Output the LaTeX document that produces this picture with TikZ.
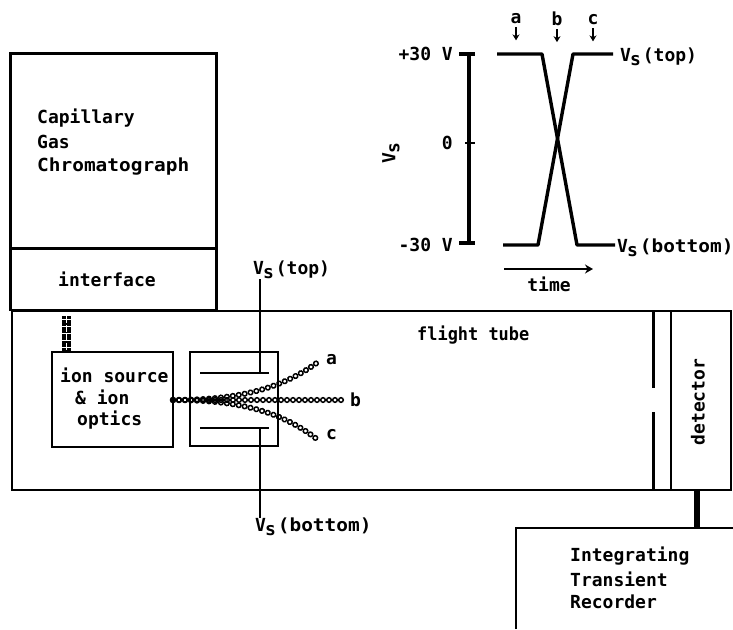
\documentclass[tikz,border=0pt]{standalone}
\usepackage{fontspec}
\setmonofont{DejaVu Sans Mono}
\usepackage{xcolor}
\usetikzlibrary{arrows.meta,positioning,calc,decorations.markings}
\newcommand{\Vsub}{V\kern-1pt\raisebox{-4pt}{s}\kern2pt}
\newcommand{\wider}[1]{\scalebox{1.08}[1]{#1}}
\tikzset{
  unitbox/.style={draw,line width=2.6pt,inner sep=0pt,outer sep=0pt,anchor=north west},
  wire/.style={line width=1.5pt},
  trace/.style={line width=3.4pt},
  lbl/.style={inner sep=0pt,font=\fontsize{18}{20}\ttfamily\bfseries},
  lblw/.style={lbl,anchor=west},
  ionbeam/.style={decoration={markings,mark=between positions 0 and 1 step 6pt with {\draw[line width=1.5pt] (0,0) circle (2.3pt);}},decorate},
  smallarrow/.style={line width=2pt,-{Stealth[length=6pt,width=7pt]}}
}
\begin{document}
\begin{tikzpicture}[x=1pt,y=-1pt]
  \useasboundingbox (0,0) rectangle (733,629);
  % instrument boxes
  \node[unitbox,minimum width=206pt,minimum height=195pt] (gc) at (10.5,53.5) {};
  \node[unitbox,minimum width=206pt,minimum height=62pt] (iface) at (10.5,248) {};
  \node[unitbox,minimum width=719pt,minimum height=179pt] (tube) at (12,311) {};
  \node[unitbox,minimum width=60pt,minimum height=179pt] (det) at (671,311) {};
  \node[unitbox,minimum width=121pt,minimum height=95pt] (source) at (52,352) {};
  \node[unitbox,minimum width=88pt,minimum height=94pt] (deflect) at (190,352) {};
  \draw[line width=2.6pt] (516,629) |- (733,528);
  \coordinate (rec) at (697,528);
  \draw[line width=6pt] (det.south -| rec) -- (rec);
  % slit in front of detector
  \coordinate (slittop) at (653,388);
  \coordinate (slitbot) at (653,412);
  \draw[line width=3pt] (tube.north -| slittop) -- (slittop);
  \draw[line width=3pt] (slitbot) -- (tube.south -| slitbot);
  % deflection plates
  \coordinate (pta) at (200,373);
  \coordinate (ptb) at (269,373);
  \coordinate (pba) at (200,428);
  \coordinate (pbb) at (269,428);
  \draw[line width=2.2pt] (pta) -- (ptb);
  \draw[line width=2.2pt] (pba) -- (pbb);
  \node[lbl,anchor=west] (vtop) at (253,270) {\Vsub(top)};
  \node[lbl,anchor=west] (vbot) at (255,527) {\Vsub\wider{(bottom)}};
  \coordinate (wt) at (260,373);
  \coordinate (wb) at (260,428);
  \draw[wire] (vtop.south -| wt) -- (wt);
  \draw[wire] (wb) -- (vbot.north -| wb);
  % ion beams
  \coordinate (stub) at (66.5,316);
  \coordinate (enda) at (318,362);
  \coordinate (endb) at (345,400);
  \coordinate (endc) at (318,440);
  \draw[line width=9pt,dash pattern=on 3pt off 0.5pt] (stub) -- (source.north -| stub);
  \draw[white,line width=1.4pt,dash pattern=on 7pt off 2pt] (stub) -- (source.north -| stub);
  \path[ionbeam] (source.east |- endb) -- (endb);
  \path[ionbeam] (source.east |- endb) .. controls (235,400) and (280,390) .. (enda);
  \path[ionbeam] (source.east |- endb) .. controls (235,400) and (280,410) .. (endc);
  % labels in the apparatus
  \node[lblw] (lcap) at (37,118) {Capillary};
  \node[lblw] (lgas) at (37,142) {Gas};
  \node[lblw] (lchr) at (37,167) {\wider{Chromatograph}};
  \node[lblw] (lint) at (58,279) {interface};
  \node[lblw] (lft) at (417,335) {\scalebox{.94}[1]{flight tube}};
  \node[lblw] (lion) at (60,375) {ion source};
  \node[lblw] (lamp) at (75,397) {\& ion};
  \node[lblw] (lopt) at (77,420) {optics};
  \node[lblw] (la) at (326,360) {a};
  \node[lblw] (lb) at (350,400) {b};
  \node[lblw] (lc) at (326,435) {c};
  \node[lbl,rotate=90] (ldet) at (698,402) {detector};
  \node[lblw] (lrec1) at (570,556) {Integrating};
  \node[lblw] (lrec2) at (570,579) {Transient};
  \node[lblw] (lrec3) at (570,602) {Recorder};
  % timing chart
  \coordinate (axt) at (469,54);
  \coordinate (axz) at (469,143);
  \coordinate (axb) at (469,243);
  \draw[trace] (axt) -- (axb);
  \draw[trace] ($(axt)+(-10,0)$) -- ++(16,0);
  \draw[line width=2.2pt] ($(axz)+(-4,0)$) -- ++(10,0);
  \draw[trace] ($(axb)+(-10,0)$) -- ++(16,0);
  \node[lbl,anchor=east] (lp30) at (453,54) {+30 V};
  \node[lbl,anchor=east] (lzero) at (453,143) {0};
  \node[lbl,anchor=east] (lm30) at (453,245) {-30 V};
  \node[lbl,rotate=90] (lvs) at (391,152) {\Vsub};
  \coordinate (t0) at (497,54);
  \coordinate (t1) at (542,54);
  \coordinate (t2) at (577,245);
  \coordinate (t3) at (615,245);
  \coordinate (b0) at (503,245);
  \coordinate (b1) at (538,245);
  \coordinate (b2) at (573,54);
  \coordinate (b3) at (613,54);
  \draw[trace,line join=round] (t0) -- (t1) -- (t2) -- (t3);
  \draw[trace,line join=round] (b0) -- (b1) -- (b2) -- (b3);
  \node[lblw] (lvt) at (620,57) {\Vsub(top)};
  \node[lblw] (lvb) at (617,248) {\Vsub\wider{(bottom)}};
  \node[lbl] (ta) at (516,19) {a};
  \node[lbl] (tb) at (557,19) {b};
  \node[lbl] (tc) at (593,20) {c};
  \foreach \nm in {ta,tb,tc}
    \draw[smallarrow] ($(\nm.south)+(0,3)$) -- ($(\nm.south)+(0,16)$);
  \coordinate (ts) at (504,269);
  \coordinate (te) at (593,269);
  \draw[line width=2.4pt,-{Stealth[length=8pt,width=9pt]}] (ts) -- (te);
  \node[lbl] (ltime) at (549,284) {time};
\end{tikzpicture}
\end{document}
